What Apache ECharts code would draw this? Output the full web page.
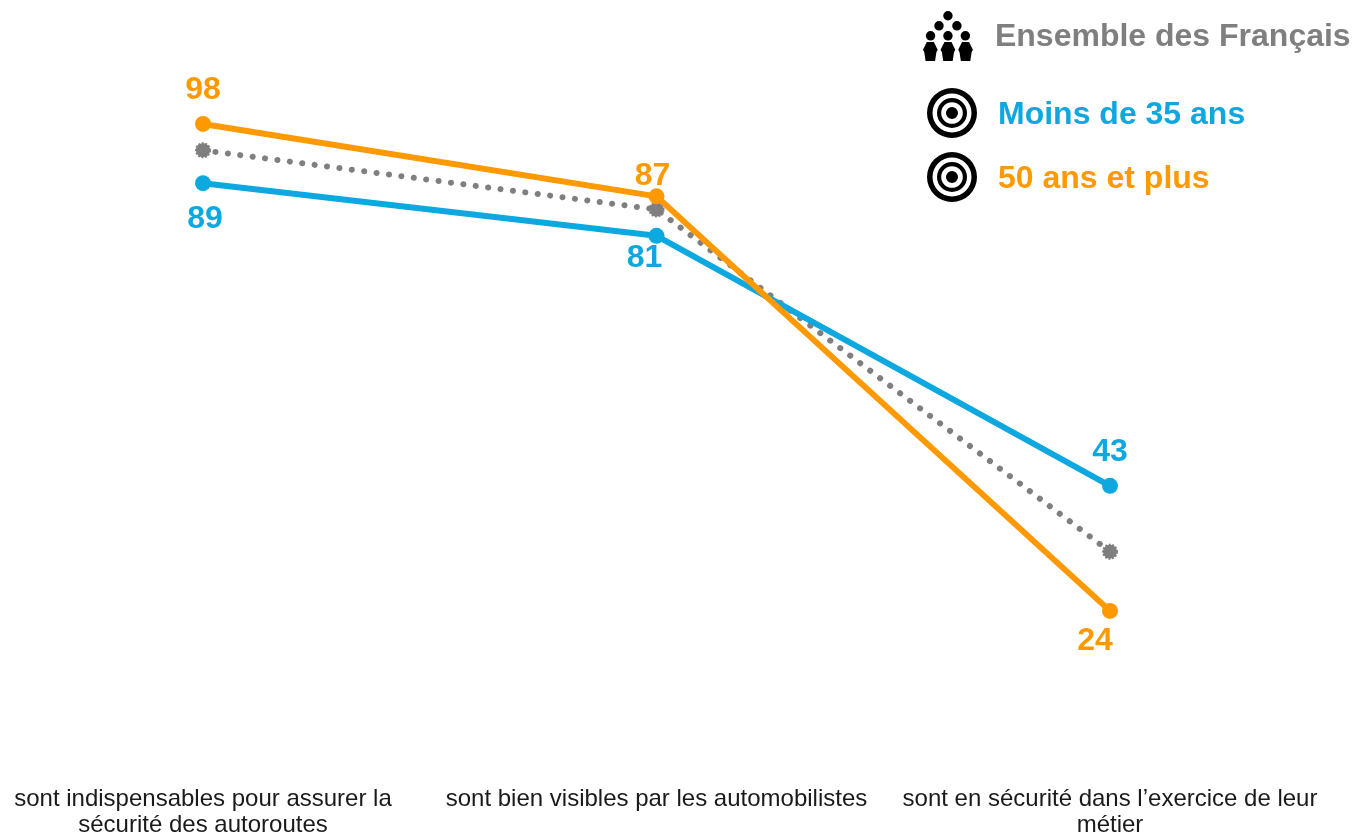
<!DOCTYPE html>
<html><head><meta charset="utf-8">
<style>html,body{margin:0;padding:0;background:#fff}#c{width:1355px;height:836px}</style>
<script src="https://cdn.jsdelivr.net/npm/echarts@6/dist/echarts.min.js"></script>
</head><body><div id="c"></div>
<script>
const categories = ['sont indispensables pour assurer la\nsécurité des autoroutes','sont bien visibles par les automobilistes','sont en sécurité dans l’exercice de leur\nmétier'];
const ensemble = [94, 85, 33];
const moins35 = [89, 81, 43];
const plus50 = [98, 87, 24];
const nameAll = 'Ensemble des Français', nameYoung = 'Moins de 35 ans', nameOld = '50 ans et plus';
const GRAY = '#7f7f7f', BLUE = '#0ea8e0', ORANGE = '#ff9900';
const FONT = '"Liberation Sans", Arial, sans-serif';

function circ(cx, cy, r, cw) {
  const s = cw ? 1 : 0;
  return `M${cx-r} ${cy}A${r} ${r} 0 1 ${s} ${cx+r} ${cy}A${r} ${r} 0 1 ${s} ${cx-r} ${cy}Z`;
}
const target = 'path://' + circ(25,25,25,true) + circ(25,25,19.5,false) + circ(25,25,15,true) + circ(25,25,10.8,false) + circ(25,25,6,true);
function body(x) {
  return `M${x-3.5} 30.7L${x+3.5} 30.7L${x+7.3} 38.5L${x+6} 41L${x+4.7} 49.7L${x-4.7} 49.7L${x-6} 41L${x-7.3} 38.5Z`;
}
const people = 'path://' + circ(25,4.7,4.7,true) + circ(16.1,14.7,4.7,true) + circ(33.9,14.7,4.7,true)
  + circ(7.7,24.7,4.7,true) + circ(25,24.7,4.7,true) + circ(42.3,24.7,4.7,true)
  + body(7.5) + body(25) + body(42.5);

const labelSpots = {
  young: [['bottom',[2,7]],['bottom',[-12,-7]],['top',[0,-5]]],
  old:   [['top',[0,-5]],['top',[-4,9]],['bottom',[-15,1]]]
};
function withLabels(values, spots, color) {
  return values.map((v,i)=>({value:v,label:{show:true,position:spots[i][0],offset:spots[i][1],color,fontSize:32,fontWeight:'bold',fontFamily:FONT}}));
}
function legendItem(name, icon, left, top, color, pad, drop) {
  return {data:[{name,icon}],left,top,orient:'horizontal',padding:0,itemWidth:50,itemHeight:50,selectedMode:false,
    itemStyle:{color:'#000',borderWidth:0},
    formatter:'{t|{name}}',
    textStyle:{color,fontSize:32,fontWeight:'bold',fontFamily:FONT,
      rich:{t:{color,fontSize:32,fontWeight:'bold',fontFamily:FONT,padding:[drop,0,0,pad]}}}};
}
const chart = echarts.init(document.getElementById('c'));
chart.setOption({
  animation:false,
  backgroundColor:'#fff',
  grid:{left:203,right:245,top:110.8,height:658,outerBoundsMode:'none'},
  legend:[
    legendItem(nameAll, people, 923, 11, GRAY, 17, 2),
    legendItem(nameYoung, target, 927, 88, BLUE, 16, 4),
    legendItem(nameOld, target, 927, 152, ORANGE, 16, 4)
  ],
  xAxis:{type:'category',data:categories,boundaryGap:false,axisLine:{show:false},axisTick:{show:false},
    axisLabel:{color:'#1a1a1a',fontSize:24,fontFamily:FONT,lineHeight:26.5,margin:17,interval:0,hideOverlap:false}},
  yAxis:{type:'value',min:0,max:100,show:false,splitLine:{show:false}},
  series:[
    {name:nameAll,type:'line',data:ensemble,z:2,symbol:'circle',symbolSize:14,
      lineStyle:{color:GRAY,width:6,type:[0.1,12.4],cap:'round'},
      itemStyle:{color:GRAY,borderColor:GRAY,borderWidth:2,borderType:[2,1.5]}},
    {name:nameYoung,type:'line',data:withLabels(moins35,labelSpots.young,BLUE),z:3,symbol:'circle',symbolSize:16,
      lineStyle:{color:BLUE,width:6},itemStyle:{color:BLUE}},
    {name:nameOld,type:'line',data:withLabels(plus50,labelSpots.old,ORANGE),z:4,symbol:'circle',symbolSize:16,
      lineStyle:{color:ORANGE,width:6},itemStyle:{color:ORANGE}}
  ]
});
</script></body></html>
